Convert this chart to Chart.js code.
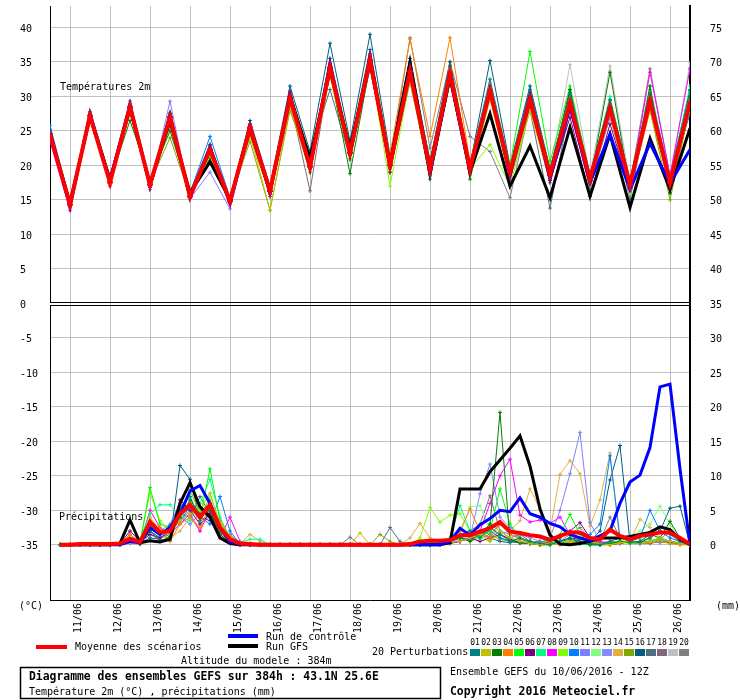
<!DOCTYPE html>
<html>
<head>
<meta charset="utf-8">
<script src="https://cdn.jsdelivr.net/npm/chart.js@4.4.0/dist/chart.umd.min.js"></script>
<style>
  html, body { margin: 0; padding: 0; background: #fff; }
  #c { display: block; width: 740px; height: 700px; }
</style>
</head>
<body>
<canvas id="c" width="740" height="700"></canvas>
<script>
// hours since 10/06 12Z
const tempHours = [0,12,24,36,48,60,72,84,96,108,120,132,144,156,168,180,192,204,216,228,240,252,264,276,288,300,312,324,336,348,360,372,384];
const rainHours = [6,12,18,24,30,36,42,48,54,60,66,72,78,84,90,96,102,108,114,120,126,132,138,144,150,156,162,168,174,180,186,192,198,204,210,216,222,228,234,240,246,252,258,264,270,276,282,288,294,300,306,312,318,324,330,336,342,348,354,360,366,372,378,384];
const dayHours = [12,36,60,84,108,132,156,180,204,228,252,276,300,324,348,372];
const dayLabels = ['11/06','12/06','13/06','14/06','15/06','16/06','17/06','18/06','19/06','20/06','21/06','22/06','23/06','24/06','25/06','26/06'];
const tempTicks = [40,35,30,25,20,15,10,5,0,-5,-10,-15,-20,-25,-30,-35];
const rainTicks = [75,70,65,60,55,50,45,40,35,30,25,20,15,10,5,0];

// temperatures 2m (°C)
const meanTemp = [24.5,14.3,27.2,17.5,28.5,17.2,27.0,15.5,22.3,14.8,25.5, 16.3,29.8,19.8,34.2,21.8,35.3,20.0,33.6,19.4,33.3,19.5, 30.8,19.0,29.6,18.6,29.1,18.0,28.3,17.2,29.3,17.5,29.1];
const gfsTemp  = [24.5,14.6,27.0,18.0,28.3,17.2,26.5,16.0,20.5,15.0,25.2, 16.2,30.0,21.0,33.8,22.5,35.0,20.2,35.0,18.8,32.8,19.0, 27.5,17.0,22.8,15.3,25.5,15.5,24.5,13.9,23.9,16.5,25.4];
const ctrlTemp = [24.8,14.0,27.5,17.8,28.8,17.0,27.3,15.3,22.6,14.5,25.8, 16.0,30.2,19.5,34.8,21.5,35.8,19.8,34.0,18.8,33.0,19.2, 31.0,18.5,30.0,18.0,28.5,17.5,24.5,16.5,23.2,17.4,22.3];
const temp01 = [24.8,14.0,27.5,17.6,28.9,17.4,27.6,15.8,23.0,15.0,26.0, 16.6,30.8,20.8,35.5,22.8,36.8,21.0,35.0,20.5,34.5,20.2, 32.5,19.8,31.0,19.5,30.5,18.8,29.5,17.8,30.5,18.2,30.8];
const temp02 = [24.0,14.6,27.0,17.2,28.0,17.0,26.0,15.6,21.5,14.6,24.5, 13.5,28.5,19.0,33.0,21.0,34.5,19.5,32.5,18.5,32.0,18.5, 29.5,18.0,28.0,17.5,28.5,17.0,27.5,16.5,28.0,16.8,28.0];
const temp03 = [24.6,14.2,27.3,17.8,26.5,18.0,25.0,15.8,21.0,15.2,25.0, 16.8,29.5,20.5,33.5,18.8,34.5,19.0,33.0,18.5,33.5,18.0, 30.0,19.5,30.5,19.0,31.0,17.5,33.5,16.5,31.5,16.0,30.0];
const temp04 = [24.4,14.4,27.0,17.4,28.6,17.3,26.8,15.4,22.0,14.7,25.2, 16.0,29.5,19.5,33.8,21.5,35.5,21.5,38.3,24.2,38.5,20.5, 31.5,19.2,30.0,18.5,29.5,18.2,28.5,17.5,29.0,17.8,29.5];
const temp05 = [24.2,14.6,27.4,17.3,28.2,17.1,26.5,15.7,21.8,14.9,25.3, 16.5,30.0,19.6,34.0,22.0,35.0,19.5,33.0,18.0,32.5,19.8, 31.5,20.0,36.5,20.5,31.5,18.5,28.0,18.0,30.0,16.5,28.5];
const temp06 = [24.0,14.5,27.0,17.5,28.4,17.5,27.2,15.4,22.8,15.0,25.6, 16.5,30.5,20.2,34.5,22.5,36.0,20.5,34.0,19.5,33.0,19.0, 30.0,18.5,28.5,17.8,27.0,15.5,26.0,16.5,28.5,17.0,28.0];
const temp07 = [24.5,14.2,27.3,17.2,28.0,17.0,26.0,15.3,21.0,14.4,24.8, 16.2,29.2,19.0,33.5,20.8,34.5,19.8,32.8,18.8,32.8,19.2, 30.5,18.8,30.0,18.0,30.5,18.2,30.0,17.5,31.0,17.8,31.5];
const temp08 = [23.5,13.5,27.0,17.0,28.2,16.8,26.6,16.0,22.5,14.5,25.3, 16.2,30.0,20.0,34.8,22.6,36.2,20.5,34.2,19.8,33.2,19.5, 31.2,18.8,29.5,18.2,31.0,17.8,29.5,16.8,33.5,18.5,34.0];
const temp09 = [24.3,14.5,27.2,17.6,28.7,17.5,26.2,15.7,22.0,14.5,24.5, 16.0,29.0,19.0,33.5,21.0,34.8,17.0,32.5,18.0,32.0,19.5, 23.0,17.0,28.0,18.0,29.0,18.5,27.5,16.0,30.0,17.0,28.8];
const temp10 = [25.8,14.8,27.8,18.0,29.3,17.5,27.5,16.0,24.2,15.3,26.0, 16.5,30.5,20.0,34.5,21.5,35.8,20.2,33.8,19.0,33.5,19.5, 31.5,19.5,30.0,19.0,28.5,17.5,27.5,17.5,28.5,18.0,27.5];
const temp11 = [24.0,13.8,27.5,17.5,28.8,16.5,29.3,15.2,19.0,13.7,25.0, 15.8,29.0,19.5,34.0,21.0,35.0,19.8,33.0,19.0,33.0,19.0, 30.0,18.2,29.0,17.5,28.0,17.0,27.0,16.8,29.0,17.0,29.5];
const temp12 = [24.6,14.3,26.8,17.5,28.2,17.0,26.8,15.5,22.0,14.8,25.6, 16.4,30.0,20.5,33.5,22.0,34.8,20.5,33.5,20.0,33.8,20.0, 31.0,19.5,30.5,18.8,29.5,18.5,28.5,17.8,30.0,18.2,30.0];
const temp13 = [24.4,14.2,27.0,17.3,28.0,17.2,27.2,15.7,23.0,15.0,25.4, 16.2,29.8,19.8,34.4,21.6,35.8,20.8,34.3,20.0,32.8,19.0, 30.2,18.5,29.2,18.2,28.8,17.5,28.8,17.0,28.5,16.8,30.5];
const temp14 = [24.2,14.0,27.0,17.6,28.5,17.2,25.5,15.3,21.5,14.5,24.0, 15.8,29.5,19.5,34.0,21.8,35.0,21.0,33.0,19.5,34.0,20.0, 31.0,19.0,29.5,19.0,29.5,18.0,28.0,17.5,29.5,18.0,29.0];
const temp15 = [24.8,14.4,27.0,17.8,27.5,17.5,24.0,15.6,21.0,15.0,23.5, 13.5,28.0,19.5,33.0,21.5,34.2,19.5,32.0,18.8,32.0,18.8, 30.0,18.5,28.5,18.0,28.0,17.5,27.0,16.5,28.0,15.0,28.5];
const temp16 = [25.2,14.8,27.6,18.2,29.0,17.8,27.3,16.2,23.0,15.3,26.5, 17.0,31.5,22.0,37.7,23.5,39.0,21.5,35.5,20.5,35.0,20.0, 35.2,20.0,31.5,19.5,30.5,18.5,29.5,18.0,30.5,18.5,31.0];
const temp17 = [25.0,14.5,27.2,17.5,28.6,17.3,27.5,15.8,22.5,14.8,25.5, 16.0,28.0,21.8,31.0,21.0,34.0,20.5,34.5,20.8,33.5,19.8, 30.5,18.0,28.0,13.8,28.5,16.5,28.0,15.0,30.0,16.0,28.5];
const temp18 = [24.0,14.5,27.0,17.2,28.5,16.5,27.0,16.0,22.3,14.5,25.5, 15.5,29.5,16.3,34.0,21.0,35.5,19.0,33.5,18.5,33.0,19.5, 30.5,18.5,29.0,17.5,28.5,17.5,27.5,16.8,28.5,17.0,29.0];
const temp19 = [24.3,14.4,27.2,17.5,28.0,17.0,27.0,15.3,23.0,14.8,25.3, 16.3,30.0,19.0,33.5,21.5,35.0,20.5,34.0,20.0,33.5,20.5, 32.0,19.0,30.5,19.0,34.6,18.5,34.4,17.5,31.5,18.0,34.9];
const temp20 = [24.7,14.1,27.3,17.6,28.6,16.8,26.9,15.6,22.6,14.6,25.2, 16.6,30.0,20.0,34.0,22.2,35.5,20.0,38.5,22.5,35.0,24.2, 22.0,15.3,28.5,18.5,29.0,18.0,28.5,17.5,34.0,18.5,29.5];

// precipitation (mm / 6h)
const meanRain = [0,0,0.1,0.1,0.1,0.1, 0.2,0.9,0.4,3.3,1.8,2.0,4.5,5.8,4.0,5.8,2.5,0.8,0.2,0.1, 0,0,0,0,0,0,0,0,0,0,0,0,0,0,0,0.1, 0.5,0.6,0.6,0.7,1.4,1.4,1.9,2.4,3.3,1.9,1.7,1.4,1.2,0.7,1.3,1.8,1.8,1.0,0.8,2.2,1.3,0.8,1.3,1.5,1.8,1.8,1.0,0.1];
const gfsRain  = [0,0,0,0,0,0, 0.2,3.6,0.3,0.6,0.4,0.8,6.0,9.0,5.5,4.0,1.0,0.2,0,0, 0,0,0,0,0,0,0,0,0,0,0,0,0,0,0,0, 0,0,0,0.3,8.1,8.1,8.1,10.6,12.3,14.0,15.8,11.4,5.2,1.4,0.1,0,0.2,0.5,1.0,1.0,1.0,1.2,1.5,1.8,2.6,2.2,0.8,0];
const ctrlRain = [0,0,0,0,0,0, 0,0.5,0.3,2.5,1.5,2.5,4.5,7.8,8.6,6.0,2.5,0.4,0.1,0, 0,0,0,0,0,0,0,0,0,0,0,0,0,0,0,0, 0,0,0,0.5,2.4,1.4,2.9,3.8,5.0,4.8,6.8,4.5,4.0,3.1,2.6,1.5,1.0,0.6,1.3,2.0,6.0,9.1,10.1,14.1,22.9,23.3,11.0,0];
const rain01 = [0,0,0,0,0,0, 0,0.5,0.2,2.5,1.5,2.8,5.5,7.0,3.5,6.0,2.0,0.5,0.1,0, 0,0,0,0,0,0,0,0,0,0,0,0,0,0,0,0, 0,0,0.3,0.5,1.5,2.0,1.0,2.5,1.5,0.5,1.0,0.5,0.2,0,0.5,1.0,0.5,0.2,0,0.5,1.0,0.5,0.3,1.0,2.0,1.5,0.5,0];
const rain02 = [0,0,0,0,0,0, 0,0.3,0.5,4.0,2.0,1.5,3.5,4.5,5.0,7.5,3.0,1.0,0.2,0.1, 0,0,0,0,0,0,0,0,0,0,1.7,0,0,0,0,0, 0,0.2,0,0.3,0.5,1.0,1.5,0.5,2.0,1.0,0.5,0.2,0,0,0.3,0.5,1.0,0.5,0.2,0,0.3,0.5,0.2,0.5,1.0,0.5,0.2,0];
const rain03 = [0,0,0,0,0,0, 0,0.8,0.1,2.0,0.5,1.2,4.0,6.5,4.5,5.0,1.5,0.3,0,0, 0,0,0,0,0,0,0,0,0,0,0,0,0,0,0,0, 0,0,0.2,0.5,1.0,0.5,1.5,3.0,19.2,0.5,0.3,0.2,0,0,0.5,0.8,0.3,0,0,0.2,0.5,0.3,0.5,1.5,1.0,3.4,1.0,0];
const rain04 = [0,0,0,0,0,0, 0.1,1.5,0.3,3.5,2.5,0.5,3.0,4.0,2.5,5.5,3.5,1.2,0.3,0, 0,0,0,0,0,0,0,0,0,0,0,0,0,0,0,0, 0,0.5,0.3,0.5,2.0,5.2,2.0,1.0,3.0,1.5,0.8,0.5,0.3,0.2,0,0.3,0.5,0.2,0,0,0.3,0.5,0.2,0.3,0.5,0.2,0,0];
const rain05 = [0,0,0,0,0,0, 0,0.6,0.2,8.3,3.0,2.5,5.0,6.0,4.0,11.0,3.5,0.8,0.2,0.1, 0,0,0,0,0,0,0,0,0,0,0,0,0,0,0,0, 0,0,0.2,0.5,1.0,1.5,1.0,2.0,8.1,3.0,1.0,0.5,0.3,0.5,1.5,4.4,1.5,0.3,0,0.2,0.5,0.3,0.2,0.3,0.5,0.2,0.1,0];
const rain06 = [0,0,0,0,0,0, 0.2,2.0,0.5,1.5,1.0,2.0,6.5,5.0,3.0,4.5,2.0,0.5,0,0, 0,0,0,0,0,0,0,0,0,0,0,0,0,0,0,0, 0,0,0,0.2,0.5,1.0,0.5,1.0,1.5,0.8,0.3,0.2,0,0.5,1.0,2.0,3.2,1.0,0.2,0,0.2,0.5,0.3,0.2,0.5,0.3,0.1,0];
const rain07 = [0,0,0,0,0,0, 0,0.5,0.8,4.5,5.8,5.8,4.0,3.5,6.0,9.5,4.0,1.0,0.3,0.8, 0.8,0,0,0,0,0,0,0,0,0,0,0,0,0,0,0, 0,0.3,0.5,1.0,5.7,2.0,1.5,3.0,2.0,1.0,0.5,0.3,0.2,0.5,0.3,0.5,0.2,0,0,0.3,0.5,0.2,0.3,0.5,0.8,0.5,0.2,0];
const rain08 = [0,0,0,0,0,0, 0,0.3,0.2,5.0,2.5,1.5,3.0,4.5,2.0,5.0,1.0,4.0,0.5,0, 0,0,0,0,0,0,0,0,0,0,0,0,0,0,0,0, 0,0,0.2,0.3,0.5,1.0,2.0,6.0,10.0,12.4,4.3,3.3,3.6,3.1,4.0,1.5,0.5,0.3,0.2,0.5,0.3,0.5,0.3,0.5,0.8,0.5,0.2,0];
const rain09 = [0,0,0,0,0,0, 0,1.0,0.4,7.5,3.5,2.0,4.5,6.0,5.0,6.5,2.0,0.5,0.1,0, 0,0,0,0,0,0,0,0,0,0,0,0,0,0,0,0, 1.0,5.4,3.3,4.3,4.5,2.0,1.0,0.5,1.5,0.8,0.5,0.2,0,0,0.2,0.5,0.3,0.2,0,0,0.2,0.3,0.5,0.8,0.5,0.3,0.1,0];
const rain10 = [0,0,0,0,0,0, 0,0.4,0.3,2.0,1.0,1.8,3.5,5.5,4.0,3.0,7.0,2.0,0.1,0, 0,0,0,0,0,0,0,0,0,0,0,0,0,0,0,0, 0,0,0.2,0.5,1.0,0.8,1.5,2.0,1.0,0.5,0.3,0.2,0.5,0.3,0.2,0.5,1.0,1.5,3.0,12.9,1.0,0.5,1.0,5.0,2.0,1.0,0.5,0];
const rain11 = [0,0,0,0,0,0, 0,0.2,0.1,1.5,0.8,2.5,4.0,3.0,4.5,5.5,2.5,0.6,0.2,0, 0,0,0,0,0,0,0,0,0,0,0,0,0,0,0,0, 0,0.2,0.3,0.5,1.0,0.8,1.5,1.0,2.0,1.5,1.0,0.5,0.3,1.0,5.0,10.3,16.3,3.2,0.5,0.3,0.2,0.5,0.3,0.5,0.3,0.5,0.2,0];
const rain12 = [0,0,0,0,0,0, 0,0.6,0.3,3.0,1.5,1.5,5.0,7.5,3.0,7.0,3.0,0.8,0.1,0.3, 0,0,0,0,0,0,0,0,0,0,0,0,0,0,0,0, 0,0,0.3,0.5,1.5,5.5,5.7,2.0,1.5,0.5,0.3,0.2,0,0.3,0.5,0.3,0.2,0,0,0.2,0.5,1.0,2.0,3.0,5.6,3.0,1.0,0];
const rain13 = [0,0,0,0,0,0, 0,0.5,0.4,2.5,2.0,3.0,6.0,5.5,3.5,4.0,1.8,0.4,0,0, 0,0,0,0,0,0,0,0,0,0,0,0,0,0,0,0, 0,0,0.2,0.3,0.5,1.0,7.4,11.7,4.0,2.5,1.5,1.0,0.5,0.3,0.2,0.5,0.3,0.2,0,0.2,0.5,0.3,0.2,0.5,0.8,0.5,0.2,0];
const rain14 = [0,0,0,0,0,0, 0,0.8,0.2,3.0,1.2,1.0,2.0,4.0,2.0,6.0,1.5,0.5,0.2,1.5, 0.5,0,0,0,0,0,0,0,0,0,0,0,0,0,0,1.0, 3.1,1.0,0.5,0.3,0.5,1.0,1.5,0.8,1.5,2.0,3.5,8.1,5.2,2.0,10.2,12.2,10.3,2.7,6.5,13.3,0.3,0.5,3.7,2.5,1.0,0.5,0.3,0];
const rain15 = [0,0,0,0,0,0, 0,0.4,0.6,3.5,1.8,2.2,4.5,8.0,4.5,5.0,2.5,0.8,0.1,0, 0,0,0,0,0,0,0,0,0,0,0,0,1.5,0.5,0,0, 0,0.2,0.5,0.8,1.0,0.5,1.0,1.5,0.8,0.5,0.3,0.2,0,0.2,0.5,0.3,0.2,0,0,0.3,0.5,0.2,0.3,0.5,1.0,0.5,0.2,0];
const rain16 = [0,0,0,0,0,0, 0,0.3,0.2,1.0,0.8,0.6,11.5,9.5,4.0,3.5,1.5,0.3,0,0, 0,0,0,0,0,0,0,0,0,0,0,0,0,0,0,0, 0,0,0.3,0.5,1.0,1.5,2.0,1.0,0.5,0.3,0.8,0.5,0.3,0.2,0.5,1.0,0.8,0.5,2.0,9.4,14.4,0.3,0.5,1.0,2.0,5.3,5.6,0];
const rain17 = [0,0,0,0,0,0, 0.1,0.7,0.5,2.0,1.0,1.5,4.5,4.0,7.0,4.5,2.5,1.0,0.2,0, 0,0,0,0,0,0,0,0,0,0,0,0,0,2.5,0.5,0, 0.5,0.3,0,0.2,0.5,1.0,1.5,2.0,1.0,0.5,0.3,0.5,0.3,0.2,0.5,0.3,0.2,0.5,0.3,0.2,0.5,0.3,0.2,0.5,0.8,0.5,0.3,0];
const rain18 = [0,0,0,0,0,0, 0.2,1.5,0.3,3.0,1.6,2.0,3.5,5.0,4.0,6.0,3.0,0.6,0.1,0, 0,0,0,0,0,0,0,0,0,0,0,0,0,0,0,0, 0,0,0.2,0.5,1.0,2.0,3.0,7.1,2.0,1.0,1.5,0.5,0.3,0.2,0.3,0.5,0.8,0.5,0.3,0.2,0.3,0.5,0.3,0.5,1.0,0.5,0.2,0];
const rain19 = [0,0,0,0,0,0, 0,0.5,0.3,2.5,1.5,2.5,4.5,6.0,3.5,4.5,2.0,0.5,0.2,0, 0,0,0,0,0,0,0,0,0,0,0,0,0,0,0,0, 0,0,0.2,0.3,0.8,1.0,1.5,2.5,1.5,1.0,0.5,0.3,0.2,0.5,0.3,0.2,0.5,0.3,0.2,0.3,0.5,0.3,0.2,0.3,0.5,0.3,0.2,0];
const rain20 = [0,0,0,0,0,0, 0,0.6,0.2,3.5,2.0,1.8,4.0,5.5,4.5,6.5,2.5,1.5,0.2,0.1, 0,0,0,0,0,0,0,0,0,1.1,0,0,0,0,0,0, 0,0.3,0.5,0.3,0.5,1.0,2.0,1.5,3.0,2.0,1.0,0.5,0.3,0.2,0.5,1.5,2.5,1.0,0.5,4.0,1.0,0.5,0.3,0.5,0.8,2.0,0.5,0];

const pertColors = ['#008080','#c0c000','#008000','#ff8000','#00ff00','#800080','#00ff80','#ff00ff','#80ff00','#0080ff',
                    '#8080ff','#80ff80','#8888ff','#e0b040','#80a800','#005f80','#507080','#806878','#c0c0c0','#808080'];
const pertTemps = [temp01,temp02,temp03,temp04,temp05,temp06,temp07,temp08,temp09,temp10,temp11,temp12,temp13,temp14,temp15,temp16,temp17,temp18,temp19,temp20];
const pertRains = [rain01,rain02,rain03,rain04,rain05,rain06,rain07,rain08,rain09,rain10,rain11,rain12,rain13,rain14,rain15,rain16,rain17,rain18,rain19,rain20];

const MONO = '"DejaVu Sans Mono", "Liberation Mono", monospace';
Chart.defaults.font.family = MONO;
Chart.defaults.font.size = 10;
Chart.defaults.color = '#000';

function pts(hours, vals) {
    return hours.map((h, i) => ({ x: h, y: vals[i] }));
}

// no extra padding from tick labels: the plot must fill 50..690 x 0..600
function fixBox(w, h) {
    return s => {
        if (w !== null) s.width = w;
        if (h !== null) s.height = h;
        s.paddingTop = 0; s.paddingBottom = 0; s.paddingLeft = 0; s.paddingRight = 0;
    };
}

const datasets = [];
pertTemps.forEach((arr, i) => {
    datasets.push({ data: pts(tempHours, arr), yAxisID: 'yT', borderColor: pertColors[i], backgroundColor: pertColors[i],
        borderWidth: 1, pointStyle: 'cross', pointRadius: 2, pointBorderWidth: 1, order: 3 + i });
});
pertRains.forEach((arr, i) => {
    datasets.push({ data: pts(rainHours, arr), yAxisID: 'yR', borderColor: pertColors[i], backgroundColor: pertColors[i],
        borderWidth: 1, pointStyle: 'cross', pointRadius: 2, pointBorderWidth: 1, order: 3 + i });
});
datasets.push({ data: pts(tempHours, gfsTemp), yAxisID: 'yT', borderColor: '#000', borderWidth: 3, pointRadius: 0, order: 2 });
datasets.push({ data: pts(rainHours, gfsRain), yAxisID: 'yR', borderColor: '#000', borderWidth: 3, pointRadius: 0, order: 2 });
datasets.push({ data: pts(tempHours, ctrlTemp), yAxisID: 'yT', borderColor: '#0000ff', borderWidth: 3, pointRadius: 0, order: 1 });
datasets.push({ data: pts(rainHours, ctrlRain), yAxisID: 'yR', borderColor: '#0000ff', borderWidth: 3, pointRadius: 0, order: 1 });
datasets.push({ data: pts(tempHours, meanTemp), yAxisID: 'yT', borderColor: '#ff0000', backgroundColor: '#ff0000', borderWidth: 4,
    pointStyle: 'cross', pointRadius: 3, pointBorderWidth: 2, order: 0 });
datasets.push({ data: pts(rainHours, meanRain), yAxisID: 'yR', borderColor: '#ff0000', backgroundColor: '#ff0000', borderWidth: 4,
    pointRadius: 0, order: 0 });

// frame details, panel labels and the meteociel legend block
const decor = {
    id: 'decor',
    afterDraw(chart) {
        const ctx = chart.ctx;
        const area = chart.chartArea;
        const y0 = Math.round(chart.scales.yT.getPixelForValue(0));
        ctx.save();
        ctx.fillStyle = '#fff';
        ctx.fillRect(area.left - 1, y0, 3, 2);
        ctx.fillStyle = '#000';
        ctx.fillRect(area.left, y0 - 1, area.right - area.left, 1);
        ctx.fillRect(area.left, y0 + 2, area.right - area.left, 1);

        ctx.textBaseline = 'middle';
        ctx.textAlign = 'left';
        ctx.font = '10px ' + MONO;
        ctx.fillText('Températures 2m', 60, 87);
        ctx.fillText('Précipitations', 59, 517);
        ctx.fillText('(°C)', 19, 606);
        ctx.fillText('(mm)', 716, 606);

        // legend
        ctx.fillStyle = '#ff0000';
        ctx.fillRect(36, 645, 31, 4);
        ctx.fillStyle = '#0000ff';
        ctx.fillRect(228, 634, 30, 4);
        ctx.fillStyle = '#000';
        ctx.fillRect(228, 644, 30, 4);
        ctx.fillText('Moyenne des scénarios', 75, 647);
        ctx.fillText('Run de contrôle', 266, 637);
        ctx.fillText('Run GFS', 266, 647);
        ctx.fillText('Altitude du modele : 384m', 181, 661);
        ctx.fillText('20 Perturbations', 372, 652);

        ctx.textAlign = 'center';
        ctx.font = '8px ' + MONO;
        pertColors.forEach((c, i) => {
            const x = 470 + i * 11;
            ctx.fillStyle = '#000';
            ctx.fillText(String(i + 1).padStart(2, '0'), x + 5, 643);
            ctx.fillStyle = c;
            ctx.fillRect(x, 649, 10, 7);
        });

        ctx.fillStyle = '#000';
        ctx.textAlign = 'left';
        ctx.lineWidth = 1.5;
        ctx.strokeRect(20.5, 667.5, 420, 31);
        ctx.font = 'bold 11.4px ' + MONO;
        ctx.fillText('Diagramme des ensembles GEFS sur 384h : 43.1N 25.6E', 29, 677);
        ctx.fillText('Copyright 2016 Meteociel.fr', 450, 692);
        ctx.font = '10px ' + MONO;
        ctx.fillText('Température 2m (°C) , précipitations (mm)', 29, 692);
        ctx.fillText('Ensemble GEFS du 10/06/2016 - 12Z', 450, 672);
        ctx.restore();
    }
};

new Chart(document.getElementById('c').getContext('2d'), {
    type: 'line',
    data: { datasets: datasets },
    options: {
        responsive: false,
        animation: false,
        devicePixelRatio: 1,
        events: [],
        layout: { padding: { left: 20, right: 0, top: 0, bottom: 0 } },
        elements: { line: { tension: 0 } },
        plugins: { legend: { display: false }, tooltip: { enabled: false } },
        scales: {
            x: {
                type: 'linear', min: 0, max: 384,
                afterBuildTicks: s => { s.ticks = dayHours.map(v => ({ value: v })); },
                afterFit: fixBox(null, 100),
                grid: { color: '#c0c0c0', drawTicks: false },
                border: { display: true, color: '#000', width: 1 },
                ticks: {
                    autoSkip: false, minRotation: 90, maxRotation: 90, labelOffset: 8, padding: 3,
                    callback: v => dayLabels[dayHours.indexOf(v)]
                }
            },
            yT: {
                type: 'linear', position: 'left', min: -43, max: 43.1,
                afterBuildTicks: s => { s.ticks = tempTicks.map(v => ({ value: v })); },
                afterFit: fixBox(30, null),
                grid: { color: c => (c.tick && c.tick.value === 0) ? 'rgba(0,0,0,0)' : '#c0c0c0', drawTicks: false },
                border: { display: true, color: '#000', width: 1 },
                ticks: { crossAlign: 'far', labelOffset: 2, padding: 0 }
            },
            yR: {
                type: 'linear', position: 'right', min: -8, max: 78.1,
                afterBuildTicks: s => { s.ticks = rainTicks.map(v => ({ value: v })); },
                afterFit: fixBox(50, null),
                grid: { display: false, drawTicks: false },
                border: { display: true, color: '#000', width: 2 },
                ticks: { crossAlign: 'near', labelOffset: 2, padding: 20 }
            }
        }
    },
    plugins: [decor]
});
</script>
</body>
</html>
